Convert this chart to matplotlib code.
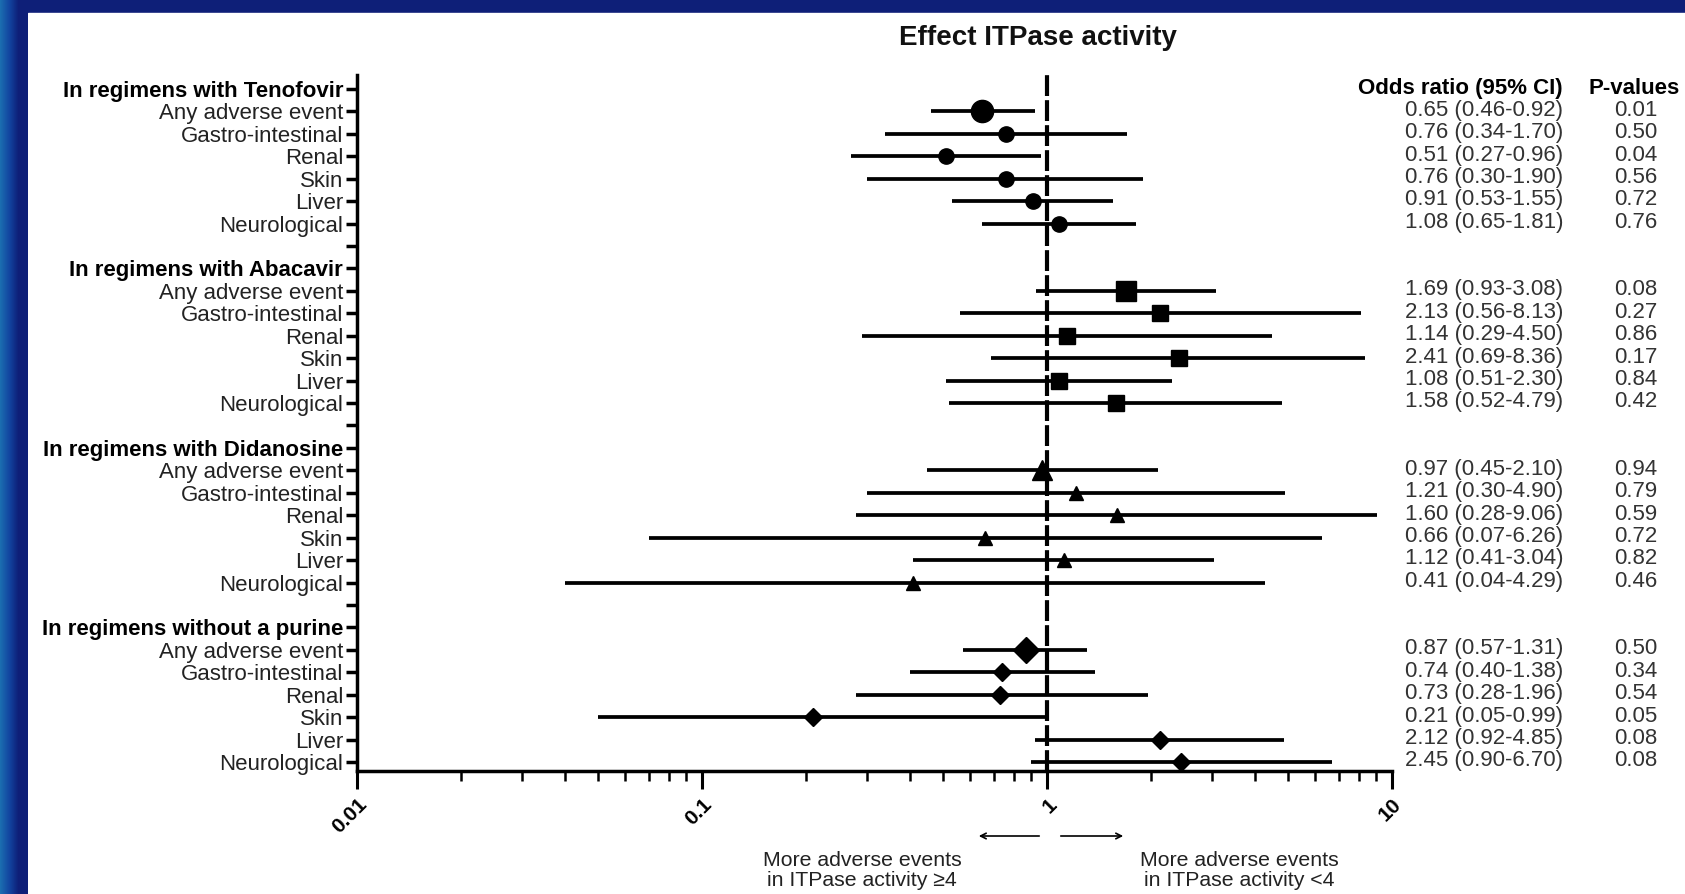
import matplotlib
matplotlib.use('Agg')
import matplotlib.pyplot as plt
from matplotlib import font_manager
from matplotlib.colors import LinearSegmentedColormap
import numpy as np

# forest plot: effect of ITPase activity on adverse events

groups = ['In regimens with Tenofovir', 'In regimens with Abacavir',
          'In regimens with Didanosine', 'In regimens without a purine']
events = ['Any adverse event', 'Gastro-intestinal', 'Renal', 'Skin', 'Liver', 'Neurological']

or_tenofovir = [0.65, 0.76, 0.51, 0.76, 0.91, 1.08]
lo_tenofovir = [0.46, 0.34, 0.27, 0.30, 0.53, 0.65]
hi_tenofovir = [0.92, 1.70, 0.96, 1.90, 1.55, 1.81]
p_tenofovir = ['0.01', '0.50', '0.04', '0.56', '0.72', '0.76']

or_abacavir = [1.69, 2.13, 1.14, 2.41, 1.08, 1.58]
lo_abacavir = [0.93, 0.56, 0.29, 0.69, 0.51, 0.52]
hi_abacavir = [3.08, 8.13, 4.50, 8.36, 2.30, 4.79]
p_abacavir = ['0.08', '0.27', '0.86', '0.17', '0.84', '0.42']

or_didanosine = [0.97, 1.21, 1.60, 0.66, 1.12, 0.41]
lo_didanosine = [0.45, 0.30, 0.28, 0.07, 0.41, 0.04]
hi_didanosine = [2.10, 4.90, 9.06, 6.26, 3.04, 4.29]
p_didanosine = ['0.94', '0.79', '0.59', '0.72', '0.82', '0.46']

or_nopurine = [0.87, 0.74, 0.73, 0.21, 2.12, 2.45]
lo_nopurine = [0.57, 0.40, 0.28, 0.05, 0.92, 0.90]
hi_nopurine = [1.31, 1.38, 1.96, 0.99, 4.85, 6.70]
p_nopurine = ['0.50', '0.34', '0.54', '0.05', '0.08', '0.08']

xticks = [0.01, 0.1, 1, 10]
xticklabels = ['0.01', '0.1', '1', '10']

names = set(f.name for f in font_manager.fontManager.ttflist)
main_font = 'Liberation Sans' if 'Liberation Sans' in names else 'DejaVu Sans'
narrow_font = 'Liberation Sans Narrow' if 'Liberation Sans Narrow' in names else main_font
plt.rcParams['font.family'] = [main_font, 'DejaVu Sans']

W, H = 1685, 894
fig = plt.figure(figsize=(W / 100, H / 100), dpi=100)
fig.patch.set_facecolor('#0e1f78')

# white slide area + lighter left edge
bg = fig.add_axes([0, 0, 1, 1], zorder=-10)
bg.set_xlim(0, W)
bg.set_ylim(H, 0)
bg.axis('off')
bg.add_patch(plt.Rectangle((28, 13), W - 28, H - 13, color='white'))
grad = np.linspace(0, 1, 28)[None, :]
cmap = LinearSegmentedColormap.from_list('edge', ['#1b6db0', '#1245a0', '#0e1f78', '#0e1f78'])
bg.imshow(np.repeat(grad, 10, axis=0), extent=(0, 28, H, 0), aspect='auto', cmap=cmap, zorder=1)

ax = fig.add_axes([357 / W, (H - 771) / H, (1392 - 357) / W, (771 - 75) / H])
ax.set_xscale('log')
ax.set_xlim(0.01, 10)
ax.set_ylim(30.4, -0.62)

all_or = [or_tenofovir, or_abacavir, or_didanosine, or_nopurine]
all_lo = [lo_tenofovir, lo_abacavir, lo_didanosine, lo_nopurine]
all_hi = [hi_tenofovir, hi_abacavir, hi_didanosine, hi_nopurine]
all_p = [p_tenofovir, p_abacavir, p_didanosine, p_nopurine]
markers = ['o', 's', '^', 'D']
big_ms = [16, 15, 15, 13.5]
small_ms = [11, 11, 10, 9.5]

ytick_pos = []
ytick_lab = []
for g, grp in enumerate(groups):
    ytick_pos.append(8 * g)
    ytick_lab.append(grp)
    for i, ev in enumerate(events):
        ytick_pos.append(8 * g + 1 + i)
        ytick_lab.append(ev)
    if g < len(groups) - 1:
        ytick_pos.append(8 * g + 7)
        ytick_lab.append('')

ax.axvline(1, color='black', lw=3, dashes=(5, 1), zorder=1)

for g in range(len(groups)):
    for i in range(len(events)):
        y = 8 * g + 1 + i
        ax.plot([all_lo[g][i], all_hi[g][i]], [y, y], color='black', lw=2.7,
                solid_capstyle='butt', zorder=2)
        ms = big_ms[g] if i == 0 else small_ms[g]
        ax.plot(all_or[g][i], y, marker=markers[g], ms=ms, color='black',
                linestyle='none', zorder=3)

ax.set_yticks(ytick_pos)
ax.set_yticklabels(ytick_lab, fontsize=16, color='#222222')
for lab in ax.get_yticklabels():
    if lab.get_text() in groups:
        lab.set_fontweight('bold')
        lab.set_color('black')

ax.set_xticks(xticks)
ax.set_xticklabels(xticklabels, fontsize=15, fontweight='bold', rotation=45,
                   ha='right', rotation_mode='anchor')
ax.tick_params(axis='y', length=8, width=2.5, pad=2)
ax.tick_params(axis='x', which='major', length=13, width=2.2, pad=4)
ax.tick_params(axis='x', which='minor', length=7, width=1.8)

for side in ['top', 'right']:
    ax.spines[side].set_visible(False)
ax.spines['left'].set_linewidth(2.5)
ax.spines['bottom'].set_linewidth(2.5)

# right-hand table
trans = matplotlib.transforms.blended_transform_factory(fig.transFigure, ax.transData)
ax.text(1563 / W, 0, 'Odds ratio (95% CI)', transform=trans, ha='right', va='center',
        fontsize=16, fontweight='bold', color='black')
ax.text(1634 / W, 0, 'P-values', transform=trans, ha='center', va='center',
        fontsize=16, fontweight='bold', color='black')
for g in range(len(groups)):
    for i in range(len(events)):
        y = 8 * g + 1 + i
        txt = f'{all_or[g][i]:.2f} ({all_lo[g][i]:.2f}-{all_hi[g][i]:.2f})'
        ax.text(1563 / W, y - 0.05, txt, transform=trans, ha='right', va='center',
                fontsize=16, color='#333333')
        ax.text(1636 / W, y - 0.05, all_p[g][i], transform=trans, ha='center',
                va='center', fontsize=16, color='#333333')

fig.text(1038 / W, 1 - 38 / H, 'Effect ITPase activity', ha='center', va='center',
         fontsize=20, fontweight='bold', color='#111111')

# direction arrows and captions
bg.annotate('', xy=(976, 836), xytext=(1042, 836),
            arrowprops=dict(arrowstyle='->', lw=1.2, color='black'))
bg.annotate('', xy=(1126, 836), xytext=(1058, 836),
            arrowprops=dict(arrowstyle='->', lw=1.2, color='black'))
cap_font = [narrow_font, 'DejaVu Sans']
bg.text(862, 860, 'More adverse events', ha='center', va='center', fontsize=15.3,
        family=cap_font, color='#222222')
bg.text(862, 881, 'in ITPase activity \u22654', ha='center', va='center', fontsize=15.3,
        family=cap_font, color='#222222')
bg.text(1239, 860, 'More adverse events', ha='center', va='center', fontsize=15.3,
        family=cap_font, color='#222222')
bg.text(1239, 881, 'in ITPase activity <4', ha='center', va='center', fontsize=15.3,
        family=cap_font, color='#222222')

fig.savefig('out.png', dpi=100, facecolor=fig.get_facecolor())
